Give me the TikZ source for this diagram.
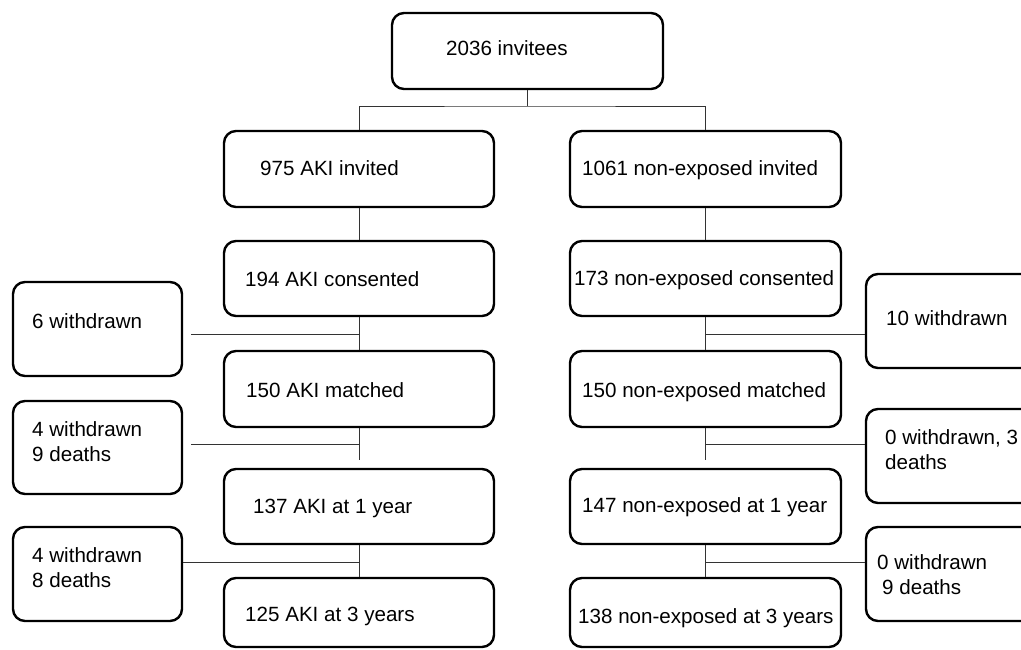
\documentclass[tikz,border=0pt]{standalone}
\usepackage{fontspec}
\setmainfont{Liberation Sans}
\begin{document}
\begin{tikzpicture}[x=1pt,y=-1pt,
  box/.style={draw=black,line width=2.4pt,rounded corners=12pt,inner sep=0pt,fill=white},
  colbox/.style={box,minimum width=270pt,minimum height=76pt},
  sidebox/.style={box,minimum width=169pt,minimum height=94pt},
  conn/.style={draw=black!80,line width=1pt},
  txt/.style={anchor=base west,inner sep=0pt,font=\fontsize{20.6pt}{25pt}\selectfont,align=left}]
\useasboundingbox (0,0) rectangle (1021,649);
\clip (0,0) rectangle (1021,649);
% boxes
\node[box,minimum width=271pt,minimum height=76pt] (top) at (527.5,51) {};
\node[colbox] (a1) at (359,169) {};
\node[colbox,minimum height=75pt] (a2) at (359,278.5) {};
\node[colbox] (a3) at (359,389) {};
\node[colbox,minimum height=75pt] (a4) at (359,506.5) {};
\node[colbox,minimum height=69pt] (a5) at (359,612.5) {};
\node[colbox,minimum width=271pt] (n1) at (705.5,169) {};
\node[colbox,minimum width=271pt,minimum height=75pt] (n2) at (705.5,278.5) {};
\node[colbox,minimum width=271pt] (n3) at (705.5,389) {};
\node[colbox,minimum width=271pt,minimum height=75pt] (n4) at (705.5,506.5) {};
\node[colbox,minimum width=271pt,minimum height=69pt] (n5) at (705.5,612.5) {};
\node[sidebox] (w1) at (97.5,329) {};
\node[sidebox,minimum height=93pt] (w2) at (97.5,447.5) {};
\node[sidebox] (w3) at (97.5,574) {};
\node[sidebox] (e1) at (950.5,321) {};
\node[sidebox] (e2) at (950.5,456) {};
\node[sidebox] (e3) at (950.5,574) {};
% texts
\node[txt] (t0) at (446,55) {2036 invitees};
\node[txt] (ta1) at (260,175) {975 AKI invited};
\node[txt] (ta2) at (245,286) {194 AKI consented};
\node[txt] (ta3) at (246,397) {150 AKI matched};
\node[txt] (ta4) at (253,513) {137 AKI at 1 year};
\node[txt] (ta5) at (245,621) {125 AKI at 3 years};
\node[txt] (tn1) at (582,175) {1061 non-exposed invited};
\node[txt] (tn2) at (574,285) {173 non-exposed consented};
\node[txt] (tn3) at (582,397) {150 non-exposed matched};
\node[txt] (tn4) at (582,512) {147 non-exposed at 1 year};
\node[txt] (tn5) at (578,623) {138 non-exposed at 3 years};
\node[txt] (tw1) at (32,328) {6 withdrawn};
\node[txt] (tw2) at (32,461) {4 withdrawn\\9 deaths};
\node[txt] (tw3) at (32,587) {4 withdrawn\\8 deaths};
\node[txt] (te1) at (886,325) {10 withdrawn};
\node[txt] (te2) at (885,469) {0 withdrawn, 3\\deaths};
\node[txt] (te3) at (877,594) {0 withdrawn\\\hspace*{5pt}9 deaths};
% junctions
\coordinate (j0) at (527.5,106);
\coordinate (jl1) at (359,334);
\coordinate (fl1) at (191,334);
\coordinate (jl2) at (359,444);
\coordinate (fl2) at (191,444);
\coordinate (jl3) at (359,562);
\coordinate (el) at (359,460);
\coordinate (jr1) at (705.5,334);
\coordinate (jr2) at (705.5,444);
\coordinate (jr3) at (705.5,562);
\coordinate (er) at (705.5,460);
% connectors
\draw[conn] (top.south) -- (j0);
\draw[conn] (a1.north) |- (j0) -| (n1.north);
\draw[conn] (a1.south) -- (a2.north);
\draw[conn] (a2.south) -- (a3.north);
\draw[conn] (a3.south) -- (el);
\draw[conn] (a4.south) -- (a5.north);
\draw[conn] (jl1) -- (fl1);
\draw[conn] (jl2) -- (fl2);
\draw[conn] (jl3) -- (jl3 -| w3.east);
\draw[conn] (n1.south) -- (n2.north);
\draw[conn] (n2.south) -- (n3.north);
\draw[conn] (n3.south) -- (er);
\draw[conn] (n4.south) -- (n5.north);
\draw[conn] (jr1) -- (jr1 -| e1.west);
\draw[conn] (jr2) -- (jr2 -| e2.west);
\draw[conn] (jr3) -- (jr3 -| e3.west);
\end{tikzpicture}
\end{document}
